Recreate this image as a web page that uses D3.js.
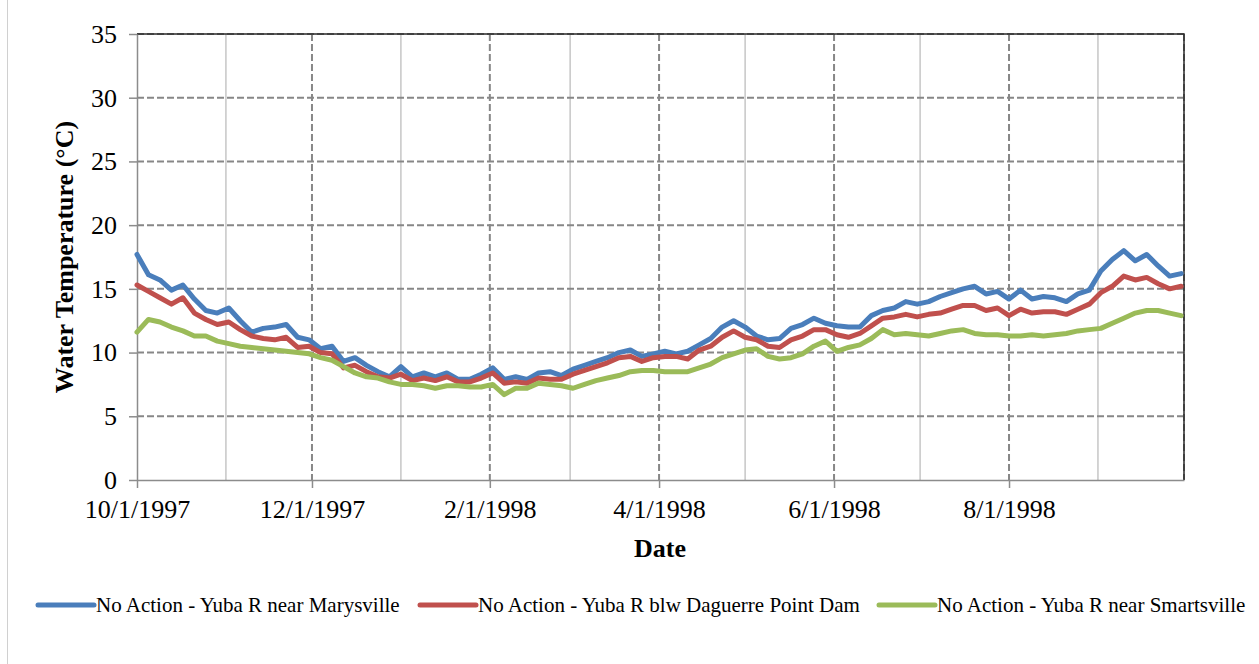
<!DOCTYPE html>
<html>
<head>
<meta charset="utf-8">
<title>water temperature</title>
<script src="https://cdn.jsdelivr.net/npm/d3@7"></script>
<style>
    body{
        margin:0;
        background:#fff;
        font-family:"Liberation Serif","Times New Roman",serif;
    }
    .grid-dash{
        stroke:#878787;
        stroke-width:2;
        stroke-dasharray:7 3;
    }
    .grid-minor{
        stroke:#c6c6c6;
        stroke-width:1.5;
    }
</style>
</head>
<body>
<div id="chart"></div>
<script>

    // days after 10/1/1997
    var dayOffsets = [0,4,8,12,16,20,24,28,32,36,40,44,48,52,56,60,64,68,72,76,80,84,88,92,96,100,
        104,108,112,116,120,124,128,132,136,140,144,148,152,156,160,164,168,172,176,180,184,188,192,196,
        200,204,208,212,216,220,224,228,232,236,240,244,248,252,256,260,264,268,272,276,280,284,288,292,
        296,300,304,308,312,316,320,324,328,332,336,340,344,348,352,356,360,364]

    var marysville = [17.7,16.1,15.7,14.9,15.3,14.2,13.3,13.1,13.5,12.5,11.6,11.9,12.0,12.2,11.2,11.0,
        10.3,10.5,9.3,9.6,9.0,8.5,8.1,8.9,8.1,8.4,8.1,8.4,7.9,7.9,8.3,8.8,7.9,8.1,7.9,8.4,8.5,8.2,8.7,9.0,
        9.3,9.6,10.0,10.2,9.7,9.9,10.1,9.9,10.1,10.6,11.1,12.0,12.5,12.0,11.3,11.0,11.1,11.9,12.2,12.7,
        12.3,12.1,12.0,12.0,12.9,13.3,13.5,14.0,13.8,14.0,14.4,14.7,15.0,15.2,14.6,14.8,14.2,14.9,14.2,
        14.4,14.3,14.0,14.6,14.9,16.4,17.3,18.0,17.2,17.7,16.8,16.0,16.2]

    var daguerre = [15.3,14.8,14.3,13.8,14.3,13.1,12.6,12.2,12.4,11.8,11.3,11.1,11.0,11.2,10.4,10.5,
        10.0,9.9,8.8,9.0,8.5,8.1,8.0,8.3,7.8,8.0,7.8,8.1,7.7,7.7,8.0,8.4,7.6,7.7,7.6,8.0,7.9,7.9,8.3,8.6,
        8.9,9.2,9.6,9.7,9.3,9.6,9.7,9.7,9.5,10.2,10.5,11.2,11.7,11.2,11.0,10.5,10.4,11.0,11.3,11.8,
        11.8,11.4,11.2,11.5,12.1,12.7,12.8,13.0,12.8,13.0,13.1,13.4,13.7,13.7,13.3,13.5,12.9,13.4,13.1,
        13.2,13.2,13.0,13.4,13.8,14.7,15.2,16.0,15.7,15.9,15.4,15.0,15.2]

    var smartsville = [11.6,12.6,12.4,12.0,11.7,11.3,11.3,10.9,10.7,10.5,10.4,10.3,10.2,10.1,10.0,9.9,
        9.6,9.4,8.9,8.4,8.1,8.0,7.7,7.5,7.5,7.4,7.2,7.4,7.4,7.3,7.3,7.5,6.7,7.2,7.2,7.6,7.5,7.4,7.2,7.5,
        7.8,8.0,8.2,8.5,8.6,8.6,8.5,8.5,8.5,8.8,9.1,9.6,9.9,10.2,10.3,9.7,9.5,9.6,9.9,10.5,
        10.9,10.1,10.4,10.6,11.1,11.8,11.4,11.5,11.4,11.3,11.5,11.7,11.8,11.5,11.4,11.4,11.3,11.3,11.4,
        11.3,11.4,11.5,11.7,11.8,11.9,12.3,12.7,13.1,13.3,13.3,13.1,12.9]

    var seriesNames = ["No Action - Yuba R near Marysville","No Action - Yuba R blw Daguerre Point Dam","No Action - Yuba R near Smartsville"]
    var seriesColors = ["#4a7ebb","#c0504d","#9bbb59"]
    var yTicks = [0,5,10,15,20,25,30,35]

    var width = 1259
    var height = 664
    var plotLeft = 137, plotRight = 1184, plotTop = 34, plotBottom = 480

    var startDate = new Date(1997,9,1)
    var endDate = new Date(1998,9,1)

    var svg = d3.select("#chart").append("svg").attr("width",width).attr("height",height)

    // frame line at the very left of the picture
    svg.append("line").attr("x1",7.5).attr("x2",7.5).attr("y1",0).attr("y2",height)
        .attr("stroke","#d0d0d0").attr("stroke-width",1)

    var x = d3.scaleTime().domain([startDate,endDate]).range([plotLeft,plotRight])
    var y = d3.scaleLinear().domain([0,35]).range([plotBottom,plotTop])

    var majorMonths = d3.timeMonth.range(startDate, d3.timeDay.offset(endDate,1), 2)
    var minorMonths = d3.timeMonth.range(new Date(1997,10,1), endDate, 2)

    // light solid gridlines on odd months
    svg.selectAll(".grid-minor").data(minorMonths).enter().append("line")
        .attr("class","grid-minor")
        .attr("x1",function(d){ return x(d) }).attr("x2",function(d){ return x(d) })
        .attr("y1",plotTop).attr("y2",plotBottom)

    // dashed horizontal gridlines
    svg.selectAll(".hgrid").data(yTicks.slice(1)).enter().append("line")
        .attr("class","grid-dash")
        .attr("x1",plotLeft).attr("x2",plotRight)
        .attr("y1",function(d){ return y(d) }).attr("y2",function(d){ return y(d) })

    // dashed vertical gridlines on labelled months
    svg.selectAll(".vgrid").data(majorMonths.slice(1)).enter().append("line")
        .attr("class","grid-dash")
        .attr("x1",function(d){ return x(d) }).attr("x2",function(d){ return x(d) })
        .attr("y1",plotTop).attr("y2",plotBottom)

    // plot border top / right
    svg.append("path")
        .attr("d","M" + plotLeft + "," + y(35) + "H" + x(endDate) + "V" + y(0))
        .attr("fill","none").attr("stroke","#2a2a2a").attr("stroke-width",1.5)

    var xAxis = d3.axisBottom(x)
        .tickValues(majorMonths.slice(0,-1))
        .tickSizeInner(8).tickSizeOuter(0)
        .tickPadding(12)
        .tickFormat(d3.timeFormat("%-m/%-d/%Y"))
    var gx = svg.append("g").attr("transform","translate(0," + plotBottom + ")").call(xAxis)
    gx.select(".domain").attr("stroke","#8c8c8c").attr("stroke-width",1.5)
    gx.selectAll(".tick line").attr("stroke","#8c8c8c").attr("stroke-width",1.5)
    gx.selectAll("text").attr("font-family","Liberation Serif").attr("font-size",26).attr("fill","#000")

    var yAxis = d3.axisLeft(y)
        .tickValues(yTicks)
        .tickSizeInner(8).tickSizeOuter(0)
        .tickPadding(12)
        .tickFormat(d3.format("d"))
    var gy = svg.append("g").attr("transform","translate(" + plotLeft + ",0)").call(yAxis)
    gy.select(".domain").attr("stroke","#8c8c8c").attr("stroke-width",1.5)
    gy.selectAll(".tick line").attr("stroke","#8c8c8c").attr("stroke-width",1.5)
    gy.selectAll("text").attr("font-family","Liberation Serif").attr("font-size",26).attr("fill","#000")

    // axis titles
    svg.append("text").attr("x",660).attr("y",557).attr("text-anchor","middle")
        .attr("font-size",26).attr("font-weight","bold").text("Date")
    svg.append("text").attr("transform","translate(73,257) rotate(-90)").attr("text-anchor","middle")
        .attr("font-size",26).attr("font-weight","bold").text("Water Temperature (°C)")

    // lines
    var allSeries = [marysville, daguerre, smartsville]
    var line = d3.line()
        .x(function(d,i){ return x(d3.timeDay.offset(startDate, dayOffsets[i])) })
        .y(function(d){ return y(d) })

    svg.selectAll(".serie").data(allSeries).enter().append("path")
        .attr("class","serie")
        .attr("d",line)
        .attr("fill","none")
        .attr("stroke",function(d,i){ return seriesColors[i] })
        .attr("stroke-width",5)
        .attr("stroke-linejoin","round")
        .attr("stroke-linecap","round")

    // legend
    var legendX = [38, 420, 879]
    var legend = svg.selectAll(".legend").data(seriesNames).enter().append("g")
        .attr("transform",function(d,i){ return "translate(" + legendX[i] + ",605)" })
    legend.append("line").attr("x1",0).attr("x2",56).attr("y1",0).attr("y2",0)
        .attr("stroke",function(d,i){ return seriesColors[i] })
        .attr("stroke-width",5).attr("stroke-linecap","round")
    legend.append("text").attr("x",58).attr("y",0).attr("dy","0.35em")
        .attr("font-size",21).text(function(d){ return d })

</script>
</body>
</html>
